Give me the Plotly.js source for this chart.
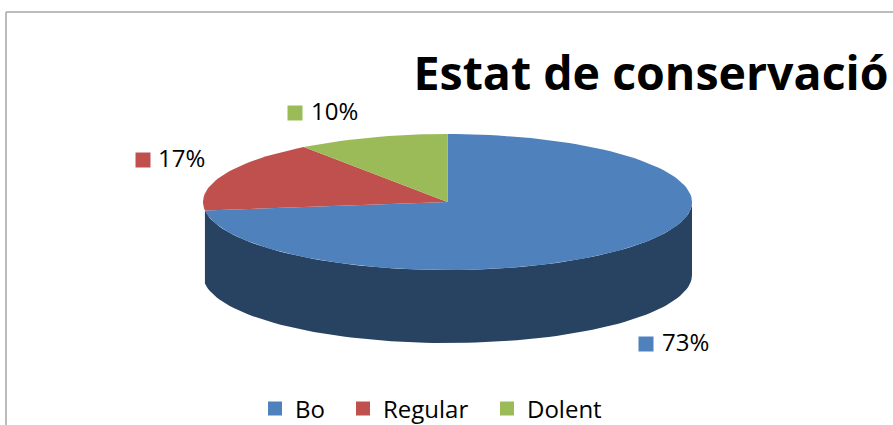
<!DOCTYPE html>
<html>
<head>
<meta charset="utf-8">
<script src="https://cdn.plot.ly/plotly-3.0.1.min.js"></script>
<style>html,body{margin:0;padding:0;background:#fff;overflow:hidden}</style>
</head>
<body>
<div id="chart" style="width:893px;height:425px"></div>
<script>
const categories = ["Bo", "Regular", "Dolent"];
const percents = [73, 17, 10];
const sliceColors = ["#4F81BD", "#C0504D", "#9BBB59"];
const sideColor = "#284261";
const titleText = "Estat de conservació";
const labelX = [646, 143, 295];
const labelTextX = [662, 158, 311];
const labelY = [344, 160, 113];
const labelTextY = [345, 161, 114];
const legendX = [255, 343, 487];

const cx = 447.5, cy = 202, rx = 244.5, ry = 68, depth = 73;
const FONT = "'Open Sans', 'Noto Sans', sans-serif";

function pt(deg, dy) {
  const a = deg * Math.PI / 180;
  return [cx + rx * Math.sin(a), cy + (dy || 0) - ry * Math.cos(a)];
}
function arc(from, to, dy) {
  const out = [], n = Math.max(2, Math.ceil(Math.abs(to - from) / 2));
  for (let i = 0; i <= n; i++) out.push(pt(from + (to - from) * i / n, dy));
  return out;
}

const traces = [];
const sideEnd = percents[0] * 3.6;
const sidePts = arc(90, sideEnd).concat(arc(sideEnd, 90, depth));
traces.push({
  x: sidePts.map(p => p[0]), y: sidePts.map(p => p[1]),
  mode: "lines", fill: "toself", fillcolor: sideColor,
  line: {width: 0, color: sideColor}, hoverinfo: "skip", showlegend: false
});

let start = 0;
percents.forEach((v, i) => {
  const end = start + v * 3.6;
  const pts = [[cx, cy]].concat(arc(start, end));
  pts.push([cx, cy]);
  traces.push({
    x: pts.map(p => p[0]), y: pts.map(p => p[1]),
    mode: "lines", fill: "toself", fillcolor: sliceColors[i],
    line: {width: 0, color: sliceColors[i]}, name: categories[i],
    hoverinfo: "name", showlegend: false
  });
  start = end;
});

traces.push({
  x: labelX, y: labelY, mode: "markers",
  marker: {symbol: "square", size: 15, color: sliceColors},
  hoverinfo: "skip", showlegend: false
});
traces.push({
  x: labelTextX, y: labelTextY, mode: "text",
  text: percents.map(v => v + "%"), textposition: "middle right",
  textfont: {family: FONT, size: 24, color: "#000"},
  hoverinfo: "skip", showlegend: false
});

const legendBase = {
  orientation: "h", xanchor: "left", y: 1 - 409 / 425, yanchor: "middle",
  font: {family: FONT, size: 24, color: "#000"},
  bgcolor: "rgba(0,0,0,0)", itemwidth: 30, itemclick: false, itemdoubleclick: false
};

categories.forEach((c, i) => {
  traces.push({
    x: [null], y: [null], mode: "markers", name: c,
    marker: {symbol: "square", size: 14, color: sliceColors[i]},
    showlegend: true, hoverinfo: "skip",
    legend: i === 0 ? "legend" : "legend" + (i + 1)
  });
});

const layout = {
  width: 893, height: 425,
  margin: {l: 0, r: 0, t: 0, b: 0, autoexpand: false},
  paper_bgcolor: "#fff", plot_bgcolor: "#fff",
  xaxis: {range: [0, 893], visible: false, fixedrange: true},
  yaxis: {range: [425, 0], visible: false, fixedrange: true},
  title: {
    text: "<b>" + titleText + "</b>",
    font: {family: FONT, size: 46.5, color: "#000"},
    x: 651 / 893, xanchor: "center", y: 1 - 74 / 425, yanchor: "middle"
  },
  legend:  Object.assign({}, legendBase, {x: legendX[0] / 893}),
  legend2: Object.assign({}, legendBase, {x: legendX[1] / 893}),
  legend3: Object.assign({}, legendBase, {x: legendX[2] / 893}),
  shapes: [
    {type: "line", xref: "paper", yref: "paper", x0: 6 / 893, x1: 1, y0: 1 - 12 / 425, y1: 1 - 12 / 425, line: {color: "#A6A6A6", width: 1.5}},
    {type: "line", xref: "paper", yref: "paper", x0: 6 / 893, x1: 6 / 893, y0: 0, y1: 1 - 12 / 425, line: {color: "#A6A6A6", width: 1.5}}
  ],
  showlegend: true
};
Plotly.newPlot("chart", traces, layout, {displayModeBar: false, responsive: false});
</script>
</body>
</html>
